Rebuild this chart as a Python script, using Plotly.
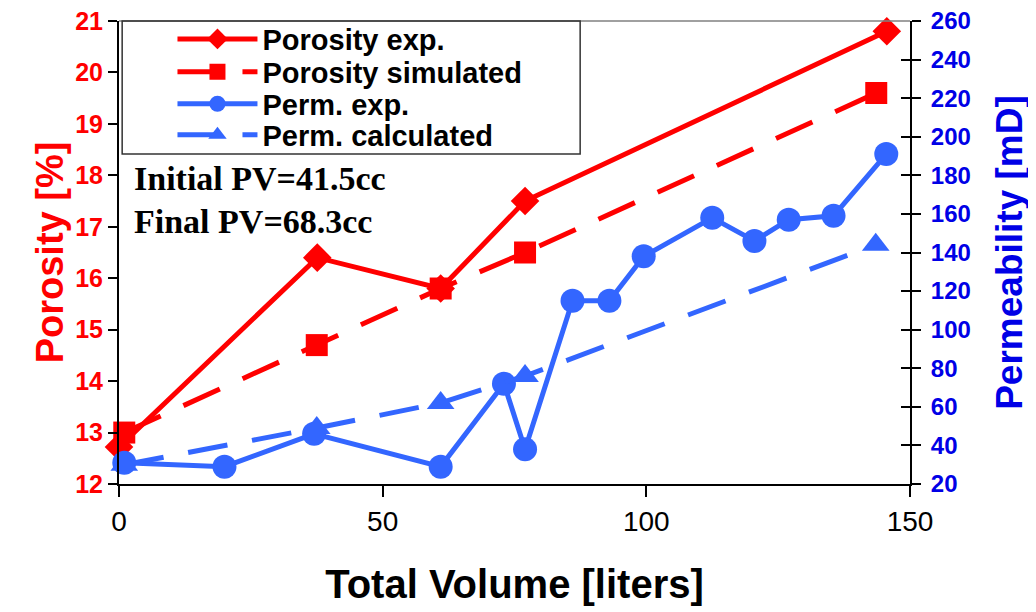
import plotly.graph_objects as go

# ---- data ----
por_exp_x = [0, 37.6, 61, 77, 145.6]
por_exp_y = [12.72, 16.4, 15.8, 17.5, 20.8]

por_sim_x = [1, 37.5, 61, 77, 143.6]
por_sim_y = [13.0, 14.7, 15.8, 16.5, 19.6]

perm_exp_x = [1, 20, 37, 61, 73, 77, 86, 93, 99.5, 112.5, 120.5, 127, 135.5, 145.5]
perm_exp_y = [31, 29, 46, 29, 72, 38, 115, 115, 138, 158, 146, 157, 159, 191]

perm_calc_x = [1, 37.5, 61, 77, 143.5]
perm_calc_y = [30, 49, 62, 76, 144]

x_ticks = [0, 50, 100, 150]
por_ticks = [12, 13, 14, 15, 16, 17, 18, 19, 20, 21]
perm_ticks = [20, 40, 60, 80, 100, 120, 140, 160, 180, 200, 220, 240, 260]

RED = "#ff0000"
BLUE_LINE = "#3366ff"
BLUE_TXT = "#0000e6"
SANS = "Liberation Sans, Arial, sans-serif"
SERIF = "Liberation Serif, Times New Roman, serif"

fig = go.Figure()

fig.add_trace(go.Scatter(
    x=por_exp_x, y=por_exp_y, name="Porosity exp.", mode="lines+markers",
    line=dict(color=RED, width=5),
    marker=dict(symbol="diamond", size=22, color=RED),
    cliponaxis=False, yaxis="y", legend="legend"))
fig.add_trace(go.Scatter(
    x=por_sim_x, y=por_sim_y, name="Porosity simulated", mode="lines+markers",
    line=dict(color=RED, width=5, dash="40px,25px"),
    marker=dict(symbol="square", size=22, color=RED),
    cliponaxis=False, yaxis="y", legend="legend2"))
fig.add_trace(go.Scatter(
    x=perm_exp_x, y=perm_exp_y, name="Perm. exp.", mode="lines+markers",
    line=dict(color=BLUE_LINE, width=5),
    marker=dict(symbol="circle", size=24, color=BLUE_LINE),
    cliponaxis=False, yaxis="y2", legend="legend3"))
fig.add_trace(go.Scatter(
    x=perm_calc_x, y=perm_calc_y, name="Perm. calculated", mode="lines+markers",
    line=dict(color=BLUE_LINE, width=5, dash="40px,25px"),
    marker=dict(symbol="triangle-up", size=24, color=BLUE_LINE),
    cliponaxis=False, yaxis="y2", legend="legend4"))
# helper trace so the inner tick axis (cross ticks on the right) is drawn
fig.add_trace(go.Scatter(x=[None], y=[None], yaxis="y3", showlegend=False,
                         hoverinfo="skip"))


def legend_at(yc):
    return dict(x=0.0676, y=yc, xanchor="left", yanchor="middle",
                bgcolor="rgba(0,0,0,0)", borderwidth=0,
                font=dict(family=SANS, size=29, color="black", weight="bold"),
                itemwidth=80, tracegroupgap=0)


fig.update_layout(
    width=1036, height=612,
    margin=dict(l=111, r=134, t=13, b=136, autoexpand=False),
    paper_bgcolor="white", plot_bgcolor="white",
    showlegend=True,
    legend=legend_at(0.961),
    legend2=legend_at(0.890),
    legend3=legend_at(0.821),
    legend4=legend_at(0.754),
    xaxis=dict(range=[0, 150], tickvals=x_ticks, ticks="outside", ticklen=11,
               tickwidth=2, tickcolor="black", showline=True, linecolor="black",
               linewidth=2, showgrid=False, zeroline=False, automargin=False,
               ticklabelstandoff=0, ticklabeloverflow="allow",
               tickfont=dict(family=SANS, size=28, color="black"),
               title=dict(text="Total Volume [liters]", standoff=34,
                          font=dict(family=SANS, size=40, color="black", weight="bold"))),
    yaxis=dict(range=[12, 21], tickvals=por_ticks, ticks="outside", ticklen=9,
               tickwidth=2, tickcolor="black", showline=True, linecolor="black",
               linewidth=2, showgrid=False, zeroline=False, automargin=False,
               ticklabeloverflow="allow",
               tickfont=dict(family=SANS, size=25, color=RED, weight="bold"),
               title=dict(text="Porosity [%]", standoff=0,
                          font=dict(family=SANS, size=38, color=RED, weight="bold"))),
    yaxis2=dict(range=[20, 260], tickvals=perm_ticks, overlaying="y", side="right",
                ticks="outside", ticklen=9, tickwidth=2, tickcolor="black",
                showline=True, linecolor="black", linewidth=2, showgrid=False,
                zeroline=False, automargin=False, ticklabelstandoff=5,
                ticklabeloverflow="allow",
                tickfont=dict(family=SANS, size=24, color=BLUE_TXT, weight="bold"),
                title=dict(text="Permeability [mD]", standoff=26,
                           font=dict(family=SANS, size=37, color=BLUE_TXT, weight="bold"))),
    yaxis3=dict(range=[20, 260], tickvals=perm_ticks, overlaying="y", side="right",
                ticks="inside", ticklen=9, tickwidth=2, tickcolor="black",
                showline=False, showgrid=False, zeroline=False, automargin=False,
                showticklabels=False),
)

# top border of the plot area and the legend frame
fig.add_shape(type="line", xref="paper", yref="paper", x0=0, x1=1, y0=1, y1=1,
              line=dict(color="#808080", width=1.5))
fig.add_shape(type="rect", xref="paper", yref="paper",
              x0=0.004, x1=0.583, y0=0.713, y1=1.0,
              line=dict(color="#333333", width=1.5), fillcolor="rgba(0,0,0,0)")

fig.add_annotation(text="Initial PV=41.5cc", xref="paper", yref="paper",
                   x=0.017, y=0.659, xanchor="left", yanchor="middle", showarrow=False,
                   font=dict(family=SERIF, size=34, color="black", weight="bold"))
fig.add_annotation(text="Final PV=68.3cc", xref="paper", yref="paper",
                   x=0.017, y=0.568, xanchor="left", yanchor="middle", showarrow=False,
                   font=dict(family=SERIF, size=34, color="black", weight="bold"))

fig.write_html("out.html")
